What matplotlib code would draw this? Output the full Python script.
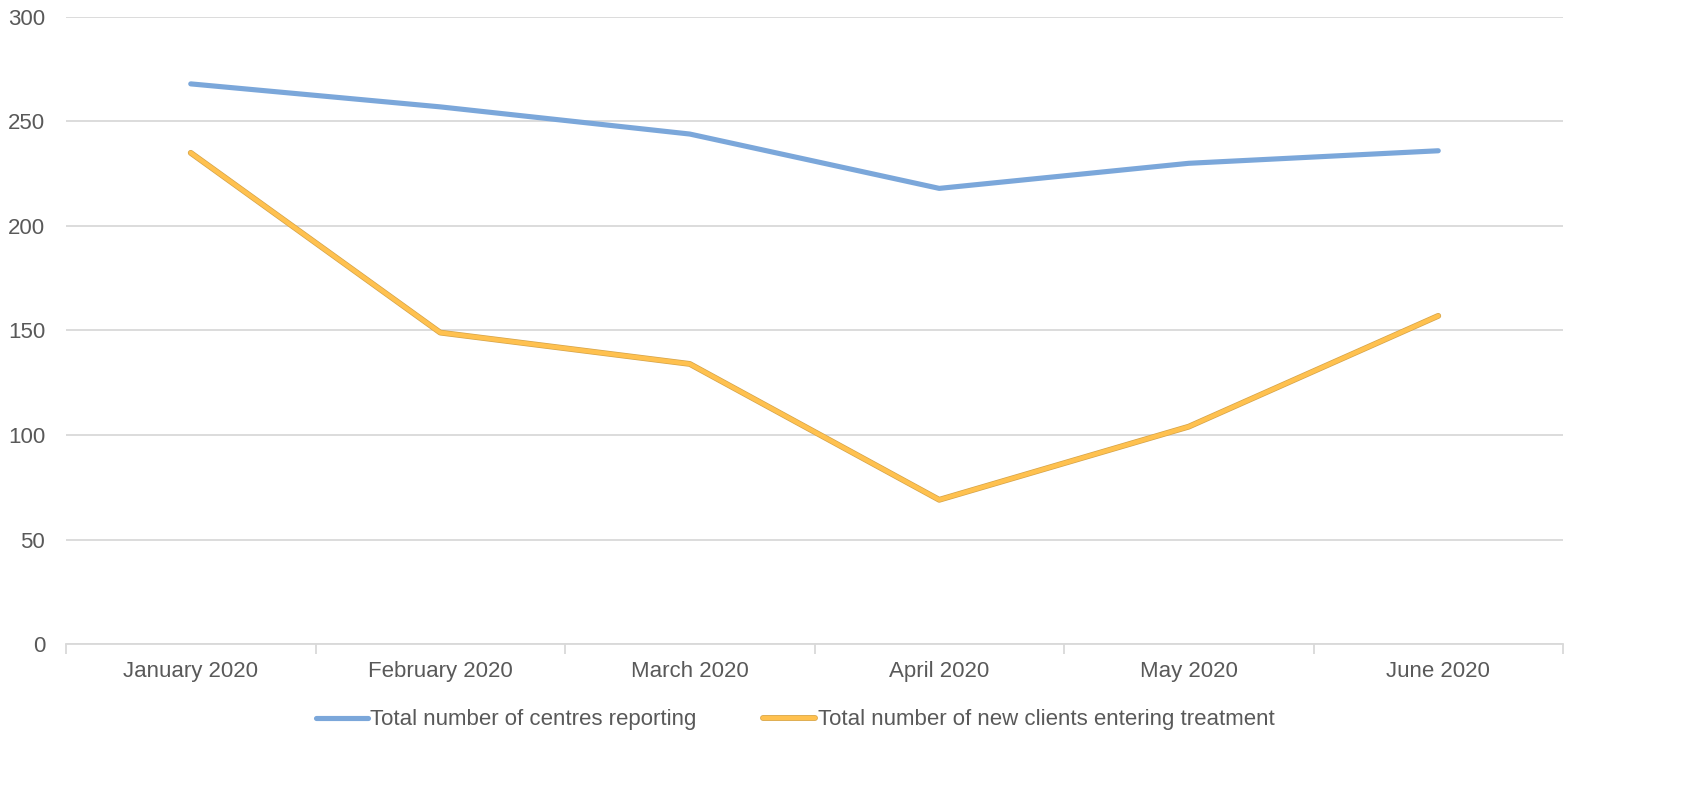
import numpy as np
import matplotlib
matplotlib.use("Agg")
import matplotlib.pyplot as plt
import matplotlib.patheffects as pe

months = ["January 2020", "February 2020", "March 2020", "April 2020", "May 2020", "June 2020"]
centres_reporting = [268, 257, 244, 218, 230, 236]
new_clients = [235, 149, 134, 69, 104, 157]

plt.rcParams['font.family'] = ['Liberation Sans', 'DejaVu Sans']
text_color = "#595959"
grid_color = "#d9d9d9"
fsize = 16

fig = plt.figure(figsize=(16.86, 7.86), dpi=100)
ax = fig.add_axes([66 / 1686, 142 / 786, (1563 - 66) / 1686, (644 - 17) / 786])

x = np.arange(len(months))
ax.plot(x, centres_reporting, color="#7ba7da", lw=3.7, solid_capstyle="round",
        label="Total number of centres reporting")
ax.plot(x, new_clients, color="#ffc14f", lw=3.2, solid_capstyle="round",
        path_effects=[pe.Stroke(linewidth=4.2, foreground="#d4a349"), pe.Normal()],
        label="Total number of new clients entering treatment")

ax.set_xlim(-0.5, len(months) - 0.5)
ax.set_ylim(0, 300)
ax.set_yticks(range(0, 301, 50))
ax.yaxis.grid(True, color=grid_color, lw=1.3)
ax.set_axisbelow(True)

ax.set_xticks(x)
ax.set_xticklabels(months)
ax.set_xticks(np.arange(-0.5, len(months)), minor=True)
ax.tick_params(axis="x", which="major", length=0, pad=12, labelsize=fsize, labelcolor=text_color)
ax.tick_params(axis="x", which="minor", length=7, width=1.3, color=grid_color)
ax.tick_params(axis="y", length=0, pad=15, labelsize=fsize, labelcolor=text_color)

for side in ["top", "right", "left"]:
    ax.spines[side].set_visible(False)
ax.spines["bottom"].set_color(grid_color)
ax.spines["bottom"].set_linewidth(1.3)

leg = fig.legend(loc="center", bbox_to_anchor=(795 / 1686, 66 / 786), ncol=2, frameon=False,
                 fontsize=fsize, handlelength=2.35, handletextpad=0.1, columnspacing=3.0)
for t in leg.get_texts():
    t.set_color(text_color)

fig.savefig("out.png", dpi=100, facecolor="white")
